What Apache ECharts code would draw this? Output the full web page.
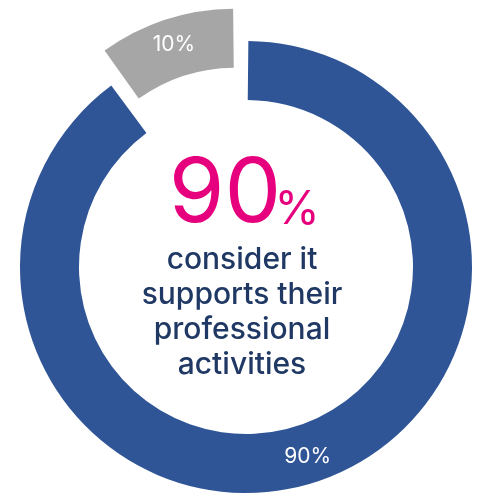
<!DOCTYPE html>
<html>
<head>
<meta charset="utf-8">
<script src="https://cdn.jsdelivr.net/npm/echarts@6/dist/echarts.min.js"></script>
<style>
  html, body { margin: 0; padding: 0; background: #ffffff; }
  #chart { width: 479px; height: 496px; }
</style>
</head>
<body>
<div id="chart"></div>
<script>
// Share of respondents
const categories = ['Supports professional activities', 'Does not'];
const shares = [90, 10];
const sliceColors = ['#2F5597', '#A6A6A6'];
const headline = '90';
const headlineUnit = '%';
const captionLines = ['consider it', 'supports their', 'professional', 'activities'];

const chart = echarts.init(document.getElementById('chart'), null, { renderer: 'canvas' });

const FONT = 'Inter, "Open Sans", sans-serif';

chart.setOption({
  animation: false,
  backgroundColor: '#ffffff',
  series: [{
    type: 'pie',
    center: [246, 267],
    radius: [167, 226],
    startAngle: 90,
    clockwise: true,
    padAngle: 1.2,
    selectedMode: 'single',
    selectedOffset: 34,
    silent: true,
    emphasis: { disabled: true },
    label: {
      show: true,
      position: 'inside',
      formatter: '{c}%',
      color: '#ffffff',
      fontFamily: FONT,
      fontSize: 21,
      fontWeight: 400
    },
    labelLine: { show: false },
    data: categories.map((name, i) => ({
      name: name,
      value: shares[i],
      selected: i === 1,
      itemStyle: { color: sliceColors[i] },
      // nudge the detached slice's label a little lower within its band
      label: i === 1 ? { padding: [10, 0, 0, 0] } : undefined
    }))
  }],
  graphic: [
    {
      type: 'text',
      style: {
        x: 225, y: 195,
        text: headline,
        fill: '#E6007E',
        font: '400 90px ' + FONT,
        textAlign: 'center',
        textVerticalAlign: 'middle'
      }
    },
    {
      type: 'text',
      style: {
        x: 297, y: 210,
        text: headlineUnit,
        fill: '#E6007E',
        font: '400 46px ' + FONT,
        textAlign: 'center',
        textVerticalAlign: 'middle'
      }
    },
    {
      type: 'text',
      style: {
        x: 242, y: 312,
        text: captionLines.join('\n'),
        fill: '#203864',
        font: '500 30px ' + FONT,
        lineHeight: 35,
        textAlign: 'center',
        textVerticalAlign: 'middle'
      }
    }
  ]
});
</script>
</body>
</html>
